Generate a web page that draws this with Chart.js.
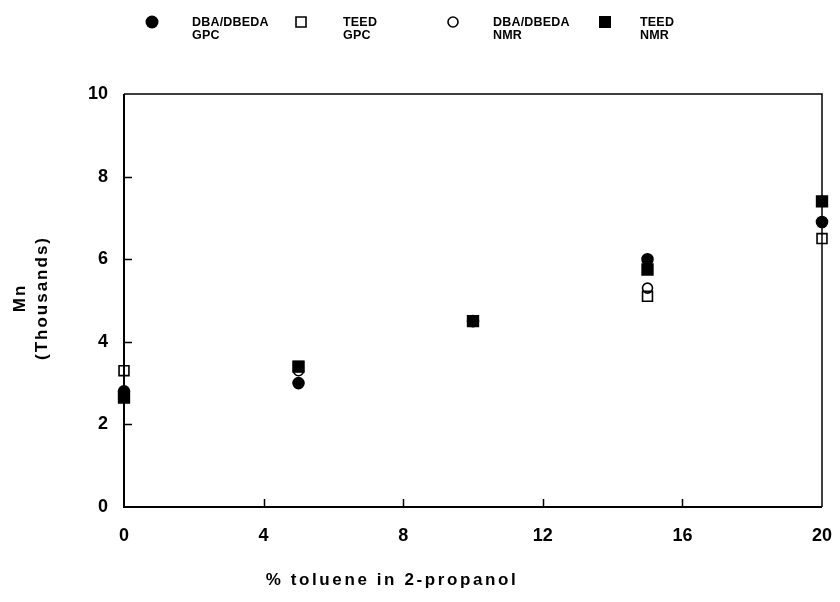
<!DOCTYPE html>
<html>
<head>
<meta charset="utf-8">
<script src="https://cdn.jsdelivr.net/npm/chart.js@4.4.1/dist/chart.umd.min.js"></script>
<style>
html,body{margin:0;padding:0;background:#fff;}
#wrap{width:840px;height:602px;position:relative;}
</style>
</head>
<body>
<div id="wrap"><canvas id="c" width="840" height="602"></canvas></div>
<script>
// ---- data ----
const xValues = [0, 5, 10, 15, 20];
const dbaGpc  = [2.8, 3.0, 4.5, 6.0, 6.9];
const teedGpc = [3.3, 3.4, 4.5, 5.1, 6.5];
const dbaNmr  = [2.7, 3.3, 4.5, 5.3, 7.4];
const teedNmr = [2.65, 3.4, 4.5, 5.75, 7.4];
const xTicks = [0, 4, 8, 12, 16, 20];
const yTicks = [0, 2, 4, 6, 8, 10];
const legendLines = [["DBA/DBEDA", "GPC"], ["TEED", "GPC"], ["DBA/DBEDA", "NMR"], ["TEED", "NMR"]];
const xTitle = "% toluene in 2-propanol";
const yTitle = ["Mn", "(Thousands)"];

const FONT = "'Liberation Sans', Arial, Helvetica, sans-serif";
const pts = (ys) => xValues.map((x, i) => ({x: x, y: ys[i]}));

const markers = [
  {style: 'circle', fill: '#000', radius: 5.5},
  {style: 'rect', fill: 'rgba(0,0,0,0)', radius: 7},
  {style: 'circle', fill: 'rgba(0,0,0,0)', radius: 5},
  {style: 'rect', fill: '#000', radius: 7.6}
];
const series = [dbaGpc, teedGpc, dbaNmr, teedNmr];
const drawOrder = [2, 3, 1, 0]; // lower order is drawn on top

const datasets = series.map((s, i) => ({
  label: legendLines[i].join(' '),
  data: pts(s),
  pointStyle: markers[i].style,
  pointRadius: markers[i].radius,
  pointHoverRadius: markers[i].radius,
  backgroundColor: markers[i].fill,
  borderColor: '#000',
  pointBorderWidth: 1.6,
  showLine: false,
  clip: false,
  order: drawOrder[i]
}));

const framePlugin = {
  id: 'frame',
  beforeDatasetsDraw(chart) {
    const ctx = chart.ctx, a = chart.chartArea;
    const xs = chart.scales.x, ys = chart.scales.y;
    ctx.save();
    ctx.strokeStyle = '#000';
    ctx.lineWidth = 1.5;
    ctx.beginPath();
    ctx.moveTo(a.left, a.top); ctx.lineTo(a.right, a.top); ctx.lineTo(a.right, a.bottom);
    ctx.stroke();
    ctx.lineWidth = 2;
    ctx.beginPath();
    ctx.moveTo(a.left, a.top); ctx.lineTo(a.left, a.bottom); ctx.lineTo(a.right, a.bottom);
    ctx.stroke();
    ctx.lineWidth = 1.5;
    ctx.beginPath();
    yTicks.forEach(v => {
      if (v === ys.min || v === ys.max) return;
      const py = Math.round(ys.getPixelForValue(v)) + 0.5;
      ctx.moveTo(a.left, py); ctx.lineTo(a.left + 8, py);
    });
    xTicks.forEach(v => {
      if (v === xs.min || v === xs.max) return;
      const px = Math.round(xs.getPixelForValue(v)) + 0.5;
      ctx.moveTo(px, a.bottom); ctx.lineTo(px, a.bottom - 8);
    });
    ctx.stroke();
    ctx.restore();
  }
};

const textPlugin = {
  id: 'texts',
  afterDraw(chart) {
    const ctx = chart.ctx;
    ctx.save();
    ctx.fillStyle = '#000';
    // x title
    ctx.font = 'bold 17px ' + FONT;
    ctx.letterSpacing = '2.6px';
    ctx.textAlign = 'center';
    ctx.textBaseline = 'middle';
    ctx.fillText(xTitle, 392, 580);
    // y title
    ctx.font = 'bold 17px ' + FONT;
    ctx.letterSpacing = '2px';
    [[20, yTitle[0]], [42, yTitle[1]]].forEach(([x, t]) => {
      ctx.save();
      ctx.translate(x, 298);
      ctx.rotate(-Math.PI / 2);
      ctx.fillText(t, 0, 0);
      ctx.restore();
    });
    // legend
    const mx = [152, 301, 453, 605];
    const tx = [192, 343, 493, 640];
    ctx.letterSpacing = '0.2px';
    ctx.font = 'bold 12.5px ' + FONT;
    ctx.textAlign = 'left';
    legendLines.forEach((lines, i) => {
      const m = markers[i];
      const cy = 22;
      ctx.beginPath();
      ctx.lineWidth = 1.6;
      ctx.strokeStyle = '#000';
      if (m.style === 'circle') {
        const r = m.fill === '#000' ? 6.5 : 5;
        ctx.arc(mx[i], cy, r, 0, Math.PI * 2);
      } else {
        const s = m.fill === '#000' ? 12 : 10;
        ctx.rect(mx[i] - s / 2, cy - s / 2, s, s);
      }
      if (m.fill === '#000') { ctx.fillStyle = '#000'; ctx.fill(); }
      else ctx.stroke();
      ctx.fillStyle = '#000';
      ctx.fillText(lines[0], tx[i], 23);
      ctx.fillText(lines[1], tx[i], 36);
    });
    ctx.restore();
  }
};

new Chart(document.getElementById('c'), {
  type: 'scatter',
  data: {datasets: datasets},
  options: {
    responsive: false,
    animation: false,
    devicePixelRatio: 1,
    layout: {autoPadding: false, padding: {top: 94, right: 18, left: 0, bottom: 0}},
    plugins: {legend: {display: false}, tooltip: {enabled: false}},
    scales: {
      x: {
        type: 'linear', min: 0, max: 20,
        afterBuildTicks: (s) => { s.ticks = xTicks.map(v => ({value: v})); },
        afterFit: (s) => { s.height = 95; s.paddingLeft = 0; s.paddingRight = 0; },
        grid: {display: false, drawTicks: false},
        border: {display: false},
        ticks: {color: '#000', padding: 18, maxRotation: 0, font: {family: FONT, size: 18, weight: 'bold'}}
      },
      y: {
        type: 'linear', min: 0, max: 10,
        afterBuildTicks: (s) => { s.ticks = yTicks.map(v => ({value: v})); },
        afterFit: (s) => { s.width = 124; s.paddingTop = 0; s.paddingBottom = 0; },
        grid: {display: false, drawTicks: false},
        border: {display: false},
        ticks: {color: '#000', padding: 16, font: {family: FONT, size: 18, weight: 'bold'}}
      }
    }
  },
  plugins: [framePlugin, textPlugin]
});
</script>
</body>
</html>
